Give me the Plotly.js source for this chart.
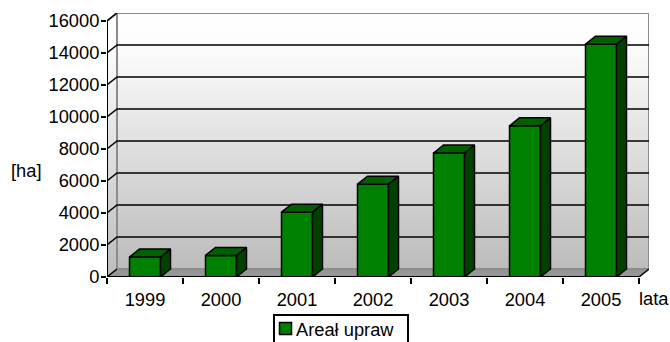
<!DOCTYPE html>
<html><head><meta charset="utf-8">
<script src="https://cdn.plot.ly/plotly-3.0.0.min.js"></script>
<style>html,body{margin:0;padding:0;background:#fff}#c{width:670px;height:342px}</style>
</head><body><div id="c"></div>
<script>
const years = ['1999','2000','2001','2002','2003','2004','2005'];
const areal = [1250,1350,4050,5800,7750,9450,14550];
const yTicks = [0,2000,4000,6000,8000,10000,12000,14000,16000];

// oblique-projection depth expressed in axis units
const DX = 10/76, DY = 500, BARW = 31/76;
const xs = years.map((_,i)=>i);
const XL=-0.5, XR=6.5, YT=16000;

function polys(list){const x=[],y=[];list.forEach(p=>{p.forEach(q=>{x.push(q[0]);y.push(q[1]);});x.push(null);y.push(null);});return {x,y};}

const side = polys(xs.map((c,i)=>{const r=c+BARW/2,d=areal[i];return [[r,0],[r+DX,DY],[r+DX,d+DY],[r,d],[r,0]];}));
const top_ = polys(xs.map((c,i)=>{const l=c-BARW/2,r=c+BARW/2,d=areal[i];return [[l,d],[l+DX,d+DY],[r+DX,d+DY],[r,d],[l,d]];}));
const wallGrad = {type:'vertical',colorscale:[[0,'#bcbcbc'],[0.85,'#fbfbfb'],[1,'#ffffff']]};
const gridX=[],gridY=[];
yTicks.slice(1,-1).forEach(v=>{gridX.push(XL,XL+DX,XR+DX,null);gridY.push(v,v+DY,v+DY,null);});
yTicks.slice(0,1).forEach(v=>{gridX.push(XL,XL+DX,null);gridY.push(v,v+DY,null);});
yTicks.slice(-1).forEach(v=>{gridX.push(XL,XL+DX,null);gridY.push(v,v+DY,null);});

const noHover={hoverinfo:'skip',showlegend:false,mode:'lines',type:'scatter'};
const traces=[
 {...noHover,x:[XL+DX,XR+DX,XR+DX,XL+DX,XL+DX],y:[DY,DY,YT+DY,YT+DY,DY],fill:'toself',fillgradient:wallGrad,line:{color:'#8c8c8c',width:2},zorder:0},
 {...noHover,x:[XL,XL+DX,XL+DX,XL,XL],y:[0,DY,YT+DY,YT,0],fill:'toself',fillgradient:wallGrad,line:{color:'#808080',width:0},zorder:0},
 {...noHover,x:[XL,XL+DX,XR+DX,XR,XL],y:[0,DY,DY,0,0],fill:'toself',fillcolor:'#969696',line:{color:'#969696',width:0},zorder:0},
 {...noHover,x:[XL,XL+DX,XL+DX,XR+DX,XR+DX],y:[YT,YT+DY,DY,DY,YT+DY],line:{color:'#8c8c8c',width:2},zorder:0},
 {...noHover,x:gridX,y:gridY,line:{color:'#000',width:1.5},zorder:0},
 {...noHover,x:[XL,XL,XR],y:[YT,0,0],line:{color:'#000',width:2},zorder:3},
 {...noHover,x:[XR,XR+DX],y:[0,DY],line:{color:'#000',width:1.5},zorder:3},
 {type:'bar',name:'Areał upraw',x:xs,y:areal,width:BARW,marker:{color:'#008000',line:{color:'#000',width:1.5}},zorder:1,showlegend:true},
 {...noHover,x:side.x,y:side.y,fill:'toself',fillcolor:'#004000',line:{color:'#000',width:1.5},zorder:2},
 {...noHover,x:top_.x,y:top_.y,fill:'toself',fillcolor:'#006000',line:{color:'#000',width:1.5},zorder:2}
];
const font={family:'"Liberation Sans",Arial,sans-serif',size:18.3,color:'#000'};
const layout={
 width:670,height:342,paper_bgcolor:'#fff',plot_bgcolor:'rgba(0,0,0,0)',
 margin:{l:107,r:21,t:13,b:65},showlegend:true,font:font,
 xaxis:{type:'linear',range:[XL,XR+DX],tickmode:'array',tickvals:xs,ticktext:years,ticks:'outside',ticklen:6,tickcolor:'rgba(0,0,0,0)',showgrid:false,zeroline:false,showline:false,tickfont:font,
   minor:{tickmode:'array',tickvals:[-0.5,0.5,1.5,2.5,3.5,4.5,5.5,6.5],ticks:'outside',ticklen:6,tickwidth:2,tickcolor:'#000',showgrid:false}},
 yaxis:{range:[0,YT+DY],tickmode:'array',tickvals:yTicks,ticks:'outside',ticklen:5,tickwidth:2,tickcolor:'#000',showgrid:false,zeroline:false,showline:false,tickfont:font,tickformat:'d',ticklabelstandoff:-2},
 legend:{xref:'container',yref:'container',x:273/670,xanchor:'left',y:1-314/342,yanchor:'top',orientation:'h',bordercolor:'#000',borderwidth:2,bgcolor:'#fff',font:font,itemwidth:30},
 annotations:[
  {text:'[ha]',xref:'paper',yref:'paper',x:(26-107)/542,y:(277-170)/264,showarrow:false,font:font,xanchor:'center',yanchor:'middle'},
  {text:'lata',xref:'paper',yref:'paper',x:(654-107)/542,y:(277-298)/264,showarrow:false,font:font,xanchor:'center',yanchor:'middle'}
 ]
};
Plotly.newPlot('c',traces,layout,{displayModeBar:false,staticPlot:true}).then(gd=>{
 // tighten the legend entry to the reference's compact swatch/text spacing
 const tr=gd.querySelector('.legend .traces');
 const m=/translate\(([-\d.]+)[ ,]*([-\d.]+)?\)/.exec(tr.getAttribute('transform')||'');
 const ox=m?+m[1]:0, oy=m&&m[2]?+m[2]:0;
 tr.setAttribute('transform','translate('+(ox-9.5)+','+(oy-6)+')');
 const t=tr.querySelector('.legendtext');
 t.setAttribute('x',(+t.getAttribute('x'))-9.5);
 const bg=gd.querySelector('.legend .bg');
 bg.setAttribute('width',134);
});
</script></body></html>
